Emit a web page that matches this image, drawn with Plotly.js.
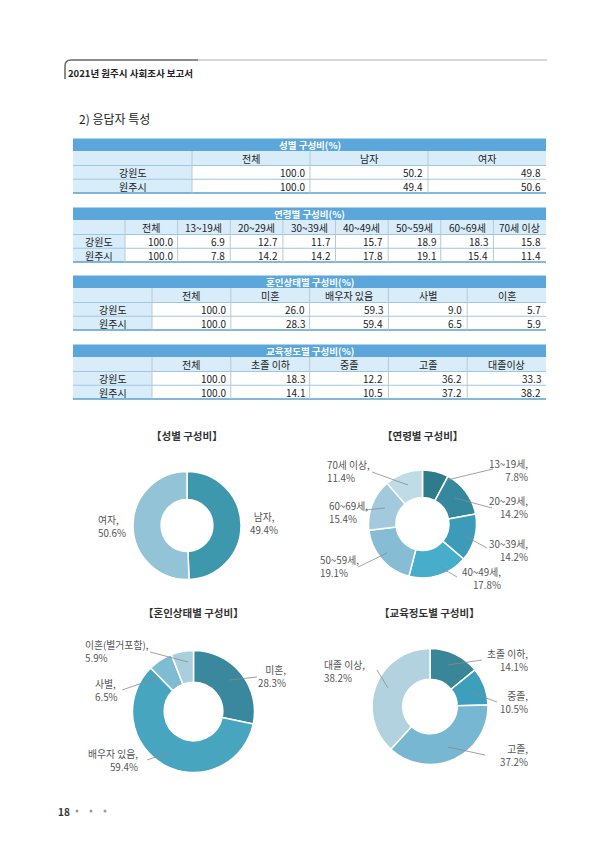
<!DOCTYPE html>
<html><head><meta charset="utf-8">
<script src="https://cdn.plot.ly/plotly-3.0.1.min.js"></script>
<style>body{margin:0;background:#fff}#chart{width:612px;height:858px}</style>
</head><body><div id="chart"></div>
<script>
const W = 612, H = 858;
// ---- table data ----
const regions = ['강원도', '원주시'];
const sexCols = ['전체', '남자', '여자'];
const sexGangwon = [100.0, 50.2, 49.8];
const sexWonju = [100.0, 49.4, 50.6];
const ageCols = ['전체', '13~19세', '20~29세', '30~39세', '40~49세', '50~59세', '60~69세', '70세 이상'];
const ageGangwon = [100.0, 6.9, 12.7, 11.7, 15.7, 18.9, 18.3, 15.8];
const ageWonju = [100.0, 7.8, 14.2, 14.2, 17.8, 19.1, 15.4, 11.4];
const marCols = ['전체', '미혼', '배우자 있음', '사별', '이혼'];
const marGangwon = [100.0, 26.0, 59.3, 9.0, 5.7];
const marWonju = [100.0, 28.3, 59.4, 6.5, 5.9];
const eduCols = ['전체', '초졸 이하', '중졸', '고졸', '대졸이상'];
const eduGangwon = [100.0, 18.3, 12.2, 36.2, 33.3];
const eduWonju = [100.0, 14.1, 10.5, 37.2, 38.2];
// ---- donut data ----
const sexPieLabels = ['남자', '여자'];
const sexPieValues = [49.4, 50.6];
const agePieLabels = ['13~19세', '20~29세', '30~39세', '40~49세', '50~59세', '60~69세', '70세 이상'];
const agePieValues = [7.8, 14.2, 14.2, 17.8, 19.1, 15.4, 11.4];
const marPieLabels = ['미혼', '배우자 있음', '사별', '이혼(별거포함)'];
const marPieValues = [28.3, 59.4, 6.5, 5.9];
const eduPieLabels = ['초졸 이하', '중졸', '고졸', '대졸 이상'];
const eduPieValues = [14.1, 10.5, 37.2, 38.2];
// ---- titles ----
const tableTitles = ['성별 구성비(%)', '연령별 구성비(%)', '혼인상태별 구성비(%)', '교육정도별 구성비(%)'];
const pieTitles = ['【성별 구성비】', '【연령별 구성비】', '【혼인상태별 구성비】', '【교육정도별 구성비】'];

const px = x => x / W, py = y => 1 - y / H;
const FONT = '"Noto Sans CJK KR", "Noto Sans", sans-serif';
const HEAD_FILL = '#d8edf9', HLINE = '#9ec6e6', VLINE = '#b9c8d3', BAR = '#5ba6da';

const traces = [], shapes = [], annotations = [];

function rect(x0, y0, x1, y1, fill) {
  shapes.push({type: 'rect', xref: 'paper', yref: 'paper', x0: px(x0), x1: px(x1), y0: py(y1), y1: py(y0),
    fillcolor: fill, line: {width: 0}, layer: 'below'});
}
function line(x0, y0, x1, y1, color, width) {
  shapes.push({type: 'line', xref: 'paper', yref: 'paper', x0: px(x0), x1: px(x1), y0: py(y0), y1: py(y1),
    line: {color: color, width: width}, layer: 'above'});
}
function text(x, y, t, anchor, size, color) {
  annotations.push({xref: 'paper', yref: 'paper', x: px(x), y: py(y), text: t, showarrow: false,
    xanchor: anchor, yanchor: 'middle', align: anchor === 'center' ? 'center' : anchor,
    font: {family: FONT, size: size, color: color}});
}

const TX0 = 73, TX1 = 546, HH = 14.5, RH = 13.75;
function makeTable(cols, a, b, top, labelW, title) {
  const colW = (TX1 - TX0 - labelW) / cols.length;
  const edges = [TX0, TX0 + labelW].concat(cols.map((c, i) => TX0 + labelW + colW * (i + 1)));
  const rowsY = [top, top + HH, top + HH + RH, top + HH + 2 * RH];
  rect(TX0, top - 12.5, TX1, top, BAR);
  text((TX0 + TX1) / 2, top - 6, '<b>' + title + '</b>', 'center', 9.5, '#ffffff');
  rect(TX0, rowsY[0], TX1, rowsY[1], HEAD_FILL);
  cols.forEach((c, i) => text((edges[i + 1] + edges[i + 2]) / 2, (rowsY[0] + rowsY[1]) / 2, c, 'center', 10, '#222'));
  const data = [a, b];
  regions.forEach((r, ri) => {
    const y0 = rowsY[ri + 1], y1 = rowsY[ri + 2];
    rect(TX0, y0, edges[1], y1, HEAD_FILL);
    text((edges[0] + edges[1]) / 2, (y0 + y1) / 2, r, 'center', 10, '#222');
    cols.forEach((c, i) => text(edges[i + 2] - 3, (y0 + y1) / 2, data[ri][i].toFixed(1), 'right', 10, '#222'));
  });
  line(TX0, rowsY[1], TX1, rowsY[1], HLINE, 1);
  line(TX0, rowsY[2], TX1, rowsY[2], HLINE, 1);
  line(TX0, rowsY[3], TX1, rowsY[3], '#5a9fd0', 1.5);
  edges.slice(1, -1).forEach(x => line(x, rowsY[0], x, rowsY[3], VLINE, 1));
}

makeTable(sexCols, sexGangwon, sexWonju, 151, 119, tableTitles[0]);
makeTable(ageCols, ageGangwon, ageWonju, 220, 52, tableTitles[1]);
makeTable(marCols, marGangwon, marWonju, 288, 79, tableTitles[2]);
makeTable(eduCols, eduGangwon, eduWonju, 357, 79, tableTitles[3]);

function makePie(labels, values, colors, cx, cy, r, hole, labelPos, leaders, title, titleY) {
  traces.push({
    type: 'pie', labels: labels, values: values, sort: false, direction: 'clockwise', rotation: 0,
    hole: hole, textinfo: 'none', hoverinfo: 'label+percent', showlegend: false,
    marker: {colors: colors, line: {color: '#ffffff', width: 1.5}},
    domain: {x: [px(cx - r), px(cx + r)], y: [py(cy + r), py(cy - r)]}
  });
  labels.forEach((lab, i) => {
    const p = labelPos[i];
    text(p[0], p[1], lab + ',<br>' + values[i].toFixed(1) + '%', p[2], 9.8, '#555');
  });
  leaders.forEach(l => line(l[0], l[1], l[2], l[3], '#8a8a8a', 0.8));
  text(cx, titleY, '<b>' + title + '</b>', 'center', 10.5, '#333');
}

makePie(sexPieLabels, sexPieValues, ['#3d97ad', '#93c3d6'], 187, 525.5, 54, 0.48,
  [[264, 523, 'center'], [96, 526, 'left']], [], pieTitles[0], 435);
makePie(agePieLabels, agePieValues,
  ['#2e7b8c', '#36889f', '#3b9bb8', '#46aecb', '#86bdd4', '#a3cadc', '#bfdbe6'], 422.5, 524, 54, 0.49,
  [[530, 470, 'right'], [530, 507, 'right'], [530, 550, 'right'], [503, 578, 'right'],
   [318, 566, 'left'], [327, 512, 'left'], [325, 471, 'left']],
  [[447, 480, 493, 469], [455, 498, 492, 508], [463, 535, 487, 548], [440, 567, 457, 577],
   [387, 553, 358, 567], [385, 508, 365, 510], [408, 485, 372, 472]], pieTitles[1], 435);
makePie(marPieLabels, marPieValues, ['#3a889e', '#47a5c0', '#80bcd1', '#a9cfdd'], 193.5, 711.5, 61, 0.48,
  [[288, 676, 'right'], [140, 760, 'right'], [93, 690, 'left'], [83, 651, 'left']],
  [[230, 680, 257, 677], [170, 752, 147, 760], [157, 678, 122, 690], [188, 662, 150, 652]], pieTitles[2], 612);
makePie(eduPieLabels, eduPieValues, ['#398698', '#3e9fbd', '#78b7d1', '#b2d2df'], 430, 706.5, 58, 0.47,
  [[530, 660, 'right'], [530, 702, 'right'], [530, 755, 'right'], [322, 671, 'left']],
  [[448, 665, 482, 660], [473, 693, 497, 702], [448, 747, 485, 755], [388, 688, 377, 670]], pieTitles[3], 612);

// page header
shapes.push({type: 'path', xref: 'paper', yref: 'paper',
  path: `M ${px(65)},${py(79)} L ${px(65)},${py(66)} Q ${px(65)},${py(60)} ${px(71)},${py(60)} L ${px(198)},${py(60)}`,
  line: {color: '#666', width: 1.5}});
line(198, 60, 547, 60, '#d8d8d8', 2);
text(66, 73, '<b>2021년 원주시 사회조사 보고서</b>', 'left', 9.5, '#222');
text(77, 118, '2) 응답자 특성', 'left', 12, '#222');
// footer
text(56, 811, '<b>18</b>', 'left', 10, '#333');
[77, 91, 105].forEach(x => shapes.push({type: 'circle', xref: 'paper', yref: 'paper',
  x0: px(x - 1.5), x1: px(x + 1.5), y0: py(811 + 1.5), y1: py(811 - 1.5), fillcolor: '#999', line: {width: 0}}));

Plotly.newPlot('chart', traces, {
  width: W, height: H, margin: {l: 0, r: 0, t: 0, b: 0}, paper_bgcolor: '#fff', plot_bgcolor: '#fff',
  showlegend: false, shapes: shapes, annotations: annotations, font: {family: FONT}
}, {displayModeBar: false, staticPlot: true});
</script></body></html>
